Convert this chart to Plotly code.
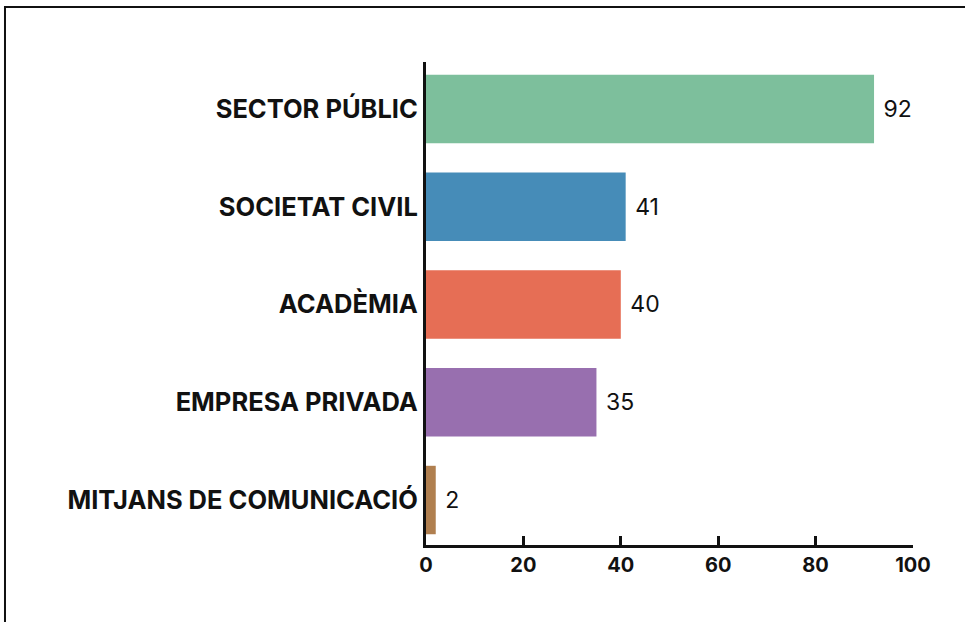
import plotly.graph_objects as go

categories = ["MITJANS DE COMUNICACIÓ", "EMPRESA PRIVADA", "ACADÈMIA", "SOCIETAT CIVIL", "SECTOR PÚBLIC"]
values = [2, 35, 40, 41, 92]
colors = ["#B07F4F", "#986FAF", "#E66E55", "#468CB8", "#7DBF9C"]
x_ticks = [0, 20, 40, 60, 80, 100]

fig = go.Figure(go.Bar(
    x=values, y=categories, orientation="h",
    marker=dict(color=colors, line=dict(width=0)),
    width=0.7,
    text=[" " + str(v) for v in values], textposition="outside",
    textfont=dict(family="Inter, Liberation Sans, Arial", size=23, color="#111"),
    cliponaxis=False,
))

fig.update_layout(
    width=965, height=622,
    margin=dict(l=426, r=52, t=62, b=77),
    plot_bgcolor="white", paper_bgcolor="white",
    showlegend=False,
    xaxis=dict(range=[0, 100], tickvals=x_ticks, showgrid=False, zeroline=False,
               showline=True, linecolor="#111", linewidth=3,
               ticks="inside", ticklen=9, tickwidth=3, tickcolor="#111",
               tickfont=dict(family="Inter, Liberation Sans, Arial", size=20, color="#111", weight="bold")),
    yaxis=dict(range=[-0.46, 4.48], showgrid=False, zeroline=False,
               showline=True, linecolor="#111", linewidth=3, ticks="",
               ticklabelstandoff=0,
               tickfont=dict(family="Inter, Liberation Sans, Arial", size=25.5, color="#111", weight="bold")),
    shapes=[dict(type="rect", xref="paper", yref="paper",
                 x0=-0.8645, x1=1.3, y0=-0.3, y1=1.1139,
                 line=dict(color="#111", width=2), fillcolor="rgba(0,0,0,0)", layer="above")],
)

fig.write_html("out.html", config={"displayModeBar": False},
               post_script="document.body.style.margin='0';")
